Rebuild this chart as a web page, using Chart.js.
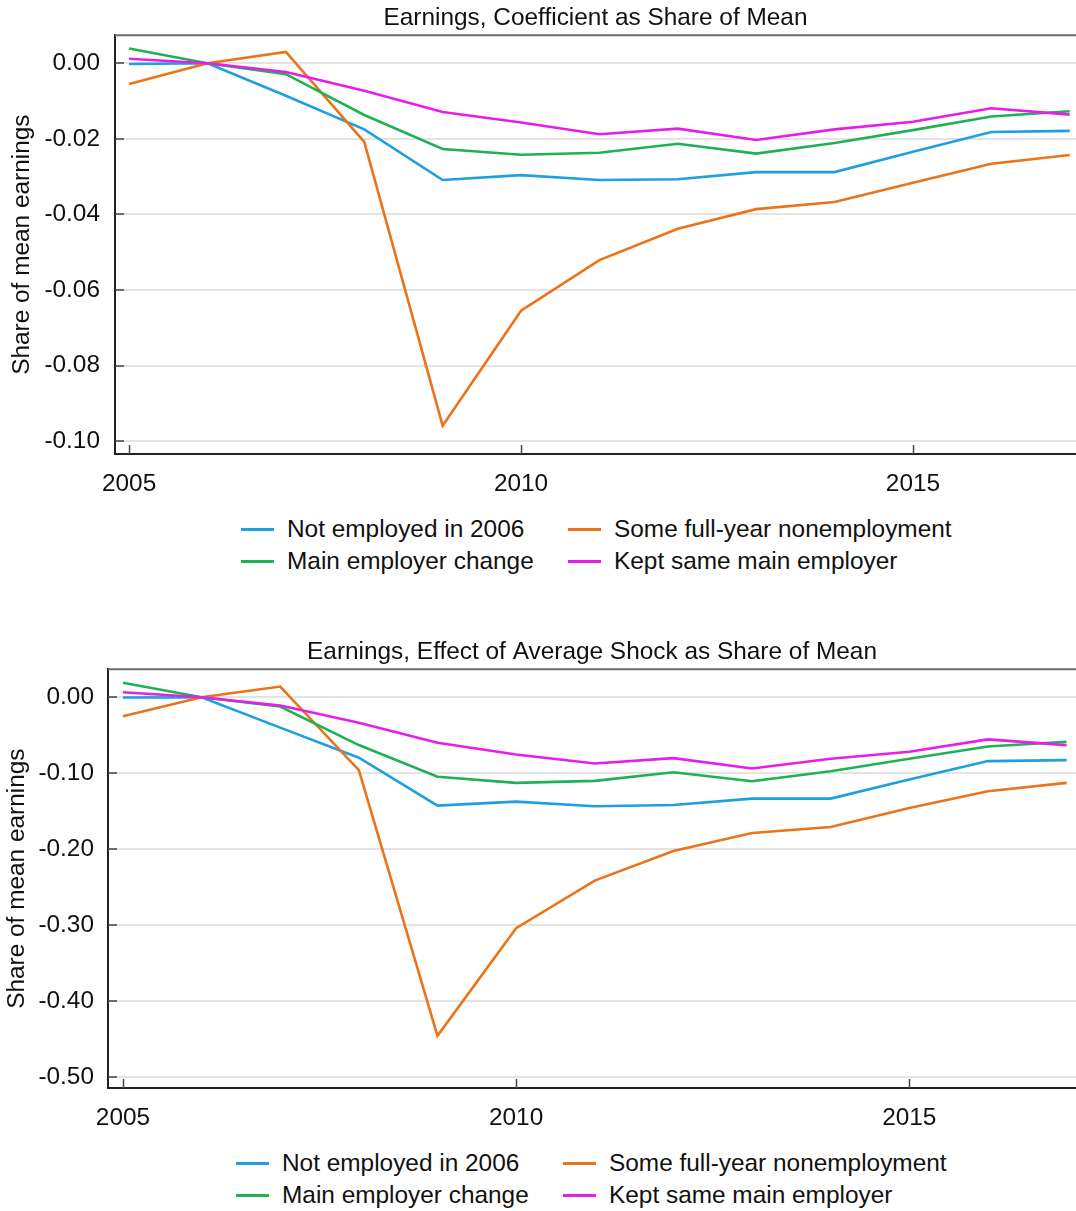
<!DOCTYPE html>
<html>
<head>
<meta charset="utf-8">
<script src="https://cdn.jsdelivr.net/npm/chart.js@4.4.1/dist/chart.umd.min.js"></script>
<style>
  body { margin: 0; background: #fff; font-family: "Liberation Sans", Arial, sans-serif; }
  #page { position: relative; width: 1076px; height: 1211px; }
  canvas { position: absolute; left: 0; }
  .leg { position: absolute; font-size: 24.4px; color: #111; white-space: nowrap; line-height: 28px; }
  .leg span.ln { position: absolute; height: 3px; top: 13px; }
</style>
</head>
<body>
<div id="page">
  <canvas id="topChart" width="1076" height="500" style="top:0px"></canvas>
  <canvas id="bottomChart" width="1076" height="500" style="top:634px"></canvas>
</div>
<script>
// years on the x axis
let years = [2005, 2006, 2007, 2008, 2009, 2010, 2011, 2012, 2013, 2014, 2015, 2016, 2017];
let xTicks = [2005, 2010, 2015];

let seriesNames = ["Not employed in 2006", "Some full-year nonemployment", "Main employer change", "Kept same main employer"];
let seriesColors = ["#1e9fe0", "#eb7319", "#1eb155", "#e61eeb"];

// top panel: coefficient as share of mean
let notEmployedTop = [-0.0002, 0, -0.0086, -0.0175, -0.0309, -0.0296, -0.0309, -0.0307, -0.0288, -0.0288, -0.0234, -0.0182, -0.0179];
let someFullYearTop = [-0.0055, 0, 0.0030, -0.0208, -0.0959, -0.0655, -0.0521, -0.0438, -0.0386, -0.0367, -0.0316, -0.0266, -0.0243];
let mainChangeTop = [0.0039, 0, -0.0029, -0.0137, -0.0227, -0.0242, -0.0237, -0.0213, -0.0239, -0.0211, -0.0177, -0.0141, -0.0127];
let keptSameTop = [0.0012, 0, -0.0023, -0.0073, -0.0129, -0.0157, -0.0188, -0.0173, -0.0203, -0.0175, -0.0155, -0.0119, -0.0136];
let yTicksTop = [0, -0.02, -0.04, -0.06, -0.08, -0.10];

// bottom panel: effect of average shock as share of mean
let notEmployedBottom = [-0.0004, 0, -0.040, -0.0797, -0.1427, -0.1375, -0.1436, -0.1418, -0.1335, -0.1335, -0.1084, -0.0841, -0.0828];
let someFullYearBottom = [-0.0251, 0, 0.0141, -0.0960, -0.4458, -0.3040, -0.2414, -0.2026, -0.1788, -0.1709, -0.1458, -0.1238, -0.1128];
let mainChangeBottom = [0.0190, 0, -0.0123, -0.0630, -0.1048, -0.1128, -0.1101, -0.0987, -0.1106, -0.0974, -0.0811, -0.0648, -0.0586];
let keptSameBottom = [0.0066, 0, -0.0110, -0.0335, -0.0599, -0.0755, -0.0872, -0.0802, -0.0938, -0.0811, -0.0718, -0.0555, -0.0630];
let yTicksBottom = [0, -0.10, -0.20, -0.30, -0.40, -0.50];

let fontFamily = "'Liberation Sans', Arial, sans-serif";
let fontSize = 24.4;
let textColor = "#111";

function toPoints(values) {
  let pts = [];
  for (let i = 0; i < years.length; i++) {
    pts.push({ x: years[i], y: values[i] });
  }
  return pts;
}

// top border + small inward tick marks, like the original
let frameExtras = {
  id: "frameExtras",
  afterDraw(chart) {
    let ctx = chart.ctx;
    let area = chart.chartArea;
    let xs = chart.scales.x;
    let ys = chart.scales.y;
    ctx.save();
    ctx.strokeStyle = "#6b6b6b";
    ctx.lineWidth = 2;
    ctx.beginPath();
    ctx.moveTo(area.left, area.top);
    ctx.lineTo(area.right, area.top);
    ctx.stroke();

    ctx.strokeStyle = "#444";
    ctx.lineWidth = 1.5;
    ys.ticks.forEach(function (t) {
      let py = Math.round(ys.getPixelForValue(t.value));
      ctx.beginPath();
      ctx.moveTo(area.left, py);
      ctx.lineTo(area.left + 9, py);
      ctx.stroke();
    });
    xs.ticks.forEach(function (t) {
      let px = Math.round(xs.getPixelForValue(t.value)) + 0.5;
      ctx.beginPath();
      ctx.moveTo(px, area.bottom);
      ctx.lineTo(px, area.bottom - 9);
      ctx.stroke();
    });
    ctx.restore();
  }
};

function makeChart(canvasId, title, seriesList, yTicks, yMin, yMax, xMin, xMax, leftWidth, yTitlePad, yTickPad) {
  let datasets = [];
  for (let i = 0; i < seriesList.length; i++) {
    datasets.push({
      label: seriesNames[i],
      data: toPoints(seriesList[i]),
      borderColor: seriesColors[i],
      backgroundColor: seriesColors[i],
      borderWidth: 2.6,
      pointRadius: 0,
      tension: 0,
      order: seriesList.length - i
    });
  }

  let config = {
    type: "line",
    data: { datasets: datasets },
    options: {
      responsive: false,
      animation: false,
      devicePixelRatio: 1,
      layout: { padding: { left: 0, right: 0, top: 0, bottom: 0 } },
      plugins: {
        legend: { display: false },
        tooltip: { enabled: false },
        title: {
          display: true,
          text: title,
          fullSize: false,
          color: textColor,
          font: { family: fontFamily, size: fontSize, weight: "normal" },
          padding: { top: 4, bottom: 2 }
        }
      },
      scales: {
        x: {
          type: "linear",
          min: xMin,
          max: xMax,
          grid: { display: false, drawTicks: false },
          border: { display: true, color: "#222", width: 2 },
          afterBuildTicks: function (scale) {
            scale.ticks = xTicks.map(function (v) { return { value: v }; });
          },
          afterFit: function (scale) { scale.height = 46; },
          ticks: {
            color: textColor,
            padding: 16,
            maxRotation: 0,
            font: { family: fontFamily, size: fontSize },
            callback: function (v) { return String(v); }
          }
        },
        y: {
          min: yMin,
          max: yMax,
          grid: { color: "#e4e4e4", lineWidth: 2, drawTicks: false },
          border: { display: true, color: "#222", width: 2 },
          afterBuildTicks: function (scale) {
            scale.ticks = yTicks.map(function (v) { return { value: v }; });
          },
          afterFit: function (scale) { scale.width = leftWidth; },
          title: {
            display: true,
            text: "Share of mean earnings",
            color: textColor,
            font: { family: fontFamily, size: fontSize },
            padding: { top: yTitlePad, bottom: 0 }
          },
          ticks: {
            color: textColor,
            padding: yTickPad,
            font: { family: fontFamily, size: fontSize },
            callback: function (v) { return Number(v).toFixed(2); }
          }
        }
      }
    },
    plugins: [frameExtras]
  };
  return new Chart(document.getElementById(canvasId), config);
}

// legend in two columns, column-major like the original
function makeLegend(top, col1Line, col2Line) {
  let page = document.getElementById("page");
  let order = [[0, 0, 0], [1, 1, 0], [2, 0, 1], [3, 1, 1]]; // series, column, row
  for (let k = 0; k < order.length; k++) {
    let s = order[k][0];
    let lineX = order[k][1] === 0 ? col1Line : col2Line;
    let div = document.createElement("div");
    div.className = "leg";
    div.style.left = lineX + "px";
    div.style.top = (top + order[k][2] * 32 - 14) + "px";
    div.style.paddingLeft = "46px";
    let ln = document.createElement("span");
    ln.className = "ln";
    ln.style.left = "0px";
    ln.style.width = "33px";
    ln.style.background = seriesColors[s];
    div.appendChild(ln);
    div.appendChild(document.createTextNode(seriesNames[s]));
    page.appendChild(div);
  }
}

makeChart("topChart", "Earnings, Coefficient as Share of Mean",
  [notEmployedTop, someFullYearTop, mainChangeTop, keptSameTop],
  yTicksTop, -0.1034, 0.0074, 2004.82, 2017.08, 115, 8, 15);

makeChart("bottomChart", "Earnings, Effect of Average Shock as Share of Mean",
  [notEmployedBottom, someFullYearBottom, mainChangeBottom, keptSameBottom],
  yTicksBottom, -0.5145, 0.0368, 2004.81, 2017.12, 108, 3, 14);

makeLegend(529, 241, 568);
makeLegend(1163, 236, 563);
</script>
</body>
</html>
